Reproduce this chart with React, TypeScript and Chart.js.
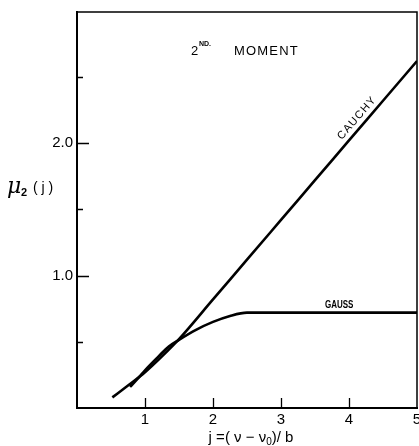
import React, { useEffect, useRef } from "react";
import { Chart, registerables } from "chart.js";

Chart.register(...registerables);

// ---- data ----
const cauchyJ = [0.52, 0.75, 1.0, 1.25, 1.5, 2.0, 2.5, 3.0, 3.5, 4.0, 4.5, 5.0];
const cauchyMu = [0.08, 0.17, 0.27, 0.39, 0.52, 0.82, 1.12, 1.42, 1.72, 2.02, 2.32, 2.62];

const gaussJ = [0.78, 0.9, 1.0, 1.2, 1.35, 1.5, 1.75, 2.0, 2.25, 2.5, 3.0, 4.0, 5.0];
const gaussMu = [0.16, 0.225, 0.285, 0.39, 0.465, 0.515, 0.59, 0.65, 0.695, 0.72, 0.72, 0.72, 0.72];

const xTickValues = [1, 2, 3, 4, 5];
const xTickLabels = ["1", "2", "3", "4", "5"];
const yMajorTicks = [1, 2];
const yMajorLabels = ["1.0", "2.0"];
const yMinorTicks = [0.5, 1.5, 2.5];

const FONT = "Liberation Sans";
const INK = "#000";

function textScaled(ctx: CanvasRenderingContext2D, s: string, x: number, y: number, sx: number) {
  ctx.save();
  ctx.translate(x, y);
  ctx.scale(sx, 1);
  ctx.fillText(s, 0, 0);
  ctx.restore();
}

const decor = {
  id: "decor",
  afterDraw(chart: any) {
    const { ctx, chartArea: a, scales } = chart;
    const xs = scales.x;
    const ys = scales.y;
    ctx.save();
    ctx.strokeStyle = INK;
    ctx.fillStyle = INK;
    // frame (top and right)
    ctx.lineWidth = 1.5;
    ctx.beginPath();
    ctx.moveTo(a.left, a.top);
    ctx.lineTo(a.right, a.top);
    ctx.lineTo(a.right, a.bottom);
    ctx.stroke();
    // inward ticks
    ctx.lineWidth = 1.3;
    ctx.beginPath();
    xTickValues.forEach((v) => {
      if (v >= 5) return;
      const px = Math.round(xs.getPixelForValue(v)) + 0.5;
      ctx.moveTo(px, a.bottom);
      ctx.lineTo(px, a.bottom - 10);
    });
    yMajorTicks.forEach((v) => {
      const py = Math.round(ys.getPixelForValue(v)) + 0.5;
      ctx.moveTo(a.left, py);
      ctx.lineTo(a.left + 12, py);
    });
    yMinorTicks.forEach((v) => {
      const py = Math.round(ys.getPixelForValue(v)) + 0.5;
      ctx.moveTo(a.left, py);
      ctx.lineTo(a.left + 6, py);
    });
    ctx.stroke();

    // annotations
    ctx.textBaseline = "alphabetic";
    ctx.textAlign = "left";
    ctx.font = `13px ${FONT}`;
    ctx.fillText("2", 191, 55);
    ctx.font = `bold 7px ${FONT}`;
    ctx.fillText("ND.", 199, 46);
    ctx.font = `13px ${FONT}`;
    (ctx as any).letterSpacing = "1.2px";
    ctx.fillText("MOMENT", 234, 55);
    (ctx as any).letterSpacing = "0px";

    // GAUSS label
    ctx.font = `bold 10px ${FONT}`;
    textScaled(ctx, "GAUSS", 325, 308, 0.8);

    // CAUCHY label rotated along the line
    ctx.save();
    ctx.translate(357, 118);
    ctx.rotate((-49 * Math.PI) / 180);
    ctx.font = `11px ${FONT}`;
    (ctx as any).letterSpacing = "1.2px";
    ctx.textAlign = "center";
    ctx.textBaseline = "middle";
    ctx.fillText("CAUCHY", 0, 0);
    (ctx as any).letterSpacing = "0px";
    ctx.restore();

    // y title: mu_2 (j)
    ctx.textAlign = "left";
    ctx.textBaseline = "alphabetic";
    ctx.font = `italic 22px DejaVu Serif`;
    ctx.fillText("\u03bc", 7, 193);
    ctx.font = `bold 11px ${FONT}`;
    ctx.fillText("2", 21, 196);
    ctx.font = `14px ${FONT}`;
    ctx.fillText("( j )", 33, 192);

    // x title: j =(nu - nu0)/b
    const p1 = "j =( \u03bd \u2212 \u03bd";
    const p3 = ")/ b";
    ctx.font = `15px ${FONT}`;
    const w1 = ctx.measureText(p1).width;
    const w3 = ctx.measureText(p3).width;
    ctx.font = `10px ${FONT}`;
    const w2 = ctx.measureText("0").width;
    const total = w1 + w2 + w3;
    let sx = 251 - total / 2;
    ctx.font = `15px ${FONT}`;
    ctx.fillText(p1, sx, 442);
    sx += w1;
    ctx.font = `10px ${FONT}`;
    ctx.fillText("0", sx, 445);
    sx += w2;
    ctx.font = `15px ${FONT}`;
    ctx.fillText(p3, sx, 442);

    ctx.restore();
  },
};

export default function App() {
  const ref = useRef<HTMLCanvasElement>(null);
  useEffect(() => {
    const canvas = ref.current;
    if (!canvas) return;
    const chart = new Chart(canvas, {
      type: "line",
      data: {
        datasets: [
          {
            label: "CAUCHY",
            data: cauchyJ.map((x, i) => ({ x, y: cauchyMu[i] })),
            borderColor: INK,
            borderWidth: 2.6,
            pointRadius: 0,
            fill: false,
            cubicInterpolationMode: "monotone",
          },
          {
            label: "GAUSS",
            data: gaussJ.map((x, i) => ({ x, y: gaussMu[i] })),
            borderColor: INK,
            borderWidth: 2.6,
            pointRadius: 0,
            fill: false,
            cubicInterpolationMode: "monotone",
          },
        ],
      },
      options: {
        responsive: false,
        animation: false,
        devicePixelRatio: 1,
        layout: { padding: { left: 0, right: 2, top: 12, bottom: 0 } },
        plugins: {
          legend: { display: false },
          tooltip: { enabled: false },
        },
        scales: {
          x: {
            type: "linear",
            min: 0,
            max: 5,
            grid: { display: true, drawOnChartArea: false, drawTicks: false },
            border: { display: true, color: INK, width: 2 },
            ticks: {
              stepSize: 1,
              autoSkip: false,
              maxRotation: 0,
              padding: 3,
              color: INK,
              font: { family: FONT, size: 15 },
              callback: (v: any) => {
                const i = xTickValues.indexOf(Number(v));
                return i >= 0 ? xTickLabels[i] : "";
              },
            },
            afterFit: (s: any) => {
              s.height = 38;
              s.paddingLeft = 0;
              s.paddingRight = 0;
            },
          },
          y: {
            type: "linear",
            min: 0,
            max: 2.99,
            grid: { display: true, drawOnChartArea: false, drawTicks: false },
            border: { display: true, color: INK, width: 2 },
            ticks: {
              stepSize: 0.5,
              autoSkip: false,
              padding: 4,
              color: INK,
              font: { family: FONT, size: 15 },
              callback: (v: any) => {
                const i = yMajorTicks.indexOf(Number(v));
                return i >= 0 ? yMajorLabels[i] : "";
              },
            },
            afterFit: (s: any) => {
              s.width = 77;
              s.paddingTop = 0;
              s.paddingBottom = 0;
            },
          },
        },
      },
      plugins: [decor],
    } as any);
    return () => chart.destroy();
  }, []);
  return (
    <div style={{ position: "absolute", left: 0, top: 0, width: 419, height: 446, background: "#fff" }}>
      <canvas ref={ref} width={419} height={446} style={{ display: "block" }} />
    </div>
  );
}
